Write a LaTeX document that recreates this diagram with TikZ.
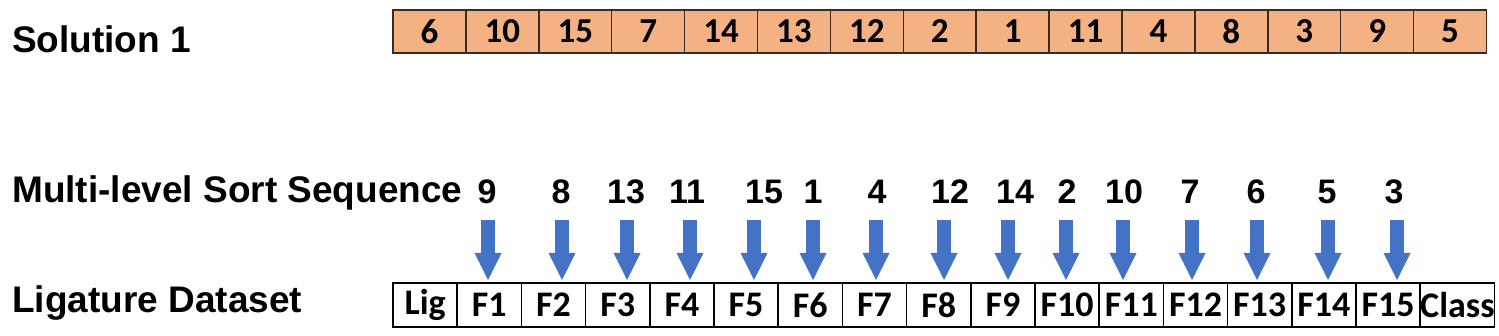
\documentclass[tikz,border=0pt]{standalone}
\usepackage{fontspec}
\setmainfont{Liberation Sans}
\newfontfamily\boxfont{Carlito}
\usetikzlibrary{positioning,arrows.meta}
\definecolor{solfill}{HTML}{F4B183}
\definecolor{solline}{HTML}{3B2A20}
\definecolor{arrblue}{HTML}{4472C4}

\begin{document}
\begin{tikzpicture}[x=1pt, y=1pt,
  sol/.style={draw=solline, fill=solfill, line width=1.5pt, minimum width=72.9pt, minimum height=43pt,
    inner sep=0pt, outer sep=0pt, font=\boxfont\bfseries\fontsize{35}{38}\selectfont},
  cell/.style={draw, line width=1.5pt, minimum width=64.2pt, minimum height=44pt,
    inner sep=0pt, outer sep=0pt, font=\boxfont\bfseries\fontsize{36}{38}\selectfont},
  lbl/.style={anchor=base west, inner sep=0pt, font=\bfseries\fontsize{37}{40}\selectfont},
  seq/.style={anchor=base, inner sep=0pt, font=\bfseries\fontsize{34}{36}\selectfont},
  blk/.style={draw=arrblue, line width=14pt, -{Triangle[width=27pt, length=27pt, line width=0pt]}, shorten >=3pt},
  node distance=0pt]
  \useasboundingbox (0,0) rectangle (1499,-336);

  % row labels
  \node[lbl] (sollbl) at (12,-53) {Solution 1};
  \node[lbl] (seqlbl) at (12,-203) {Multi-level Sort Sequence};
  \node[lbl] (datlbl) at (12,-313) {Ligature Dataset};

  % solution vector
  \node[sol, anchor=north west] (s1) at (393,-10) {6};
  \foreach \v [count=\i from 2] in {10,15,7,14,13,12,2,1,11,4,8,3,9,5} {
    \pgfmathtruncatemacro\p{\i-1}
    \node[sol, right=of s\p] (s\i) {\v};
  }

  % dataset columns
  \node[cell, anchor=north west] (f0) at (393,-283) {Lig};
  \foreach \i in {1,...,15} {
    \pgfmathtruncatemacro\p{\i-1}
    \node[cell, right=of f\p] (f\i) {F\i};
  }
  \node[cell, minimum width=73pt, right=of f15] (cls) {Class};

  % sort sequence and arrows
  \foreach \n/\x/\ax [count=\i] in {9/487/488, 8/561/562, 13/626/627, 11/687/690, 15/764/754,
      1/813/813, 4/877/876, 12/950/944, 14/1015/1008, 2/1067/1066, 10/1124/1123,
      7/1190/1192, 6/1256/1257, 5/1327/1328, 3/1394/1397} {
    \node[seq] (n\i) at (\x,-204) {\n};
    \coordinate (a\i) at (\ax,-220);
    \draw[blk] (a\i) -- (a\i |- f\i.north);
  }
\end{tikzpicture}
\end{document}
